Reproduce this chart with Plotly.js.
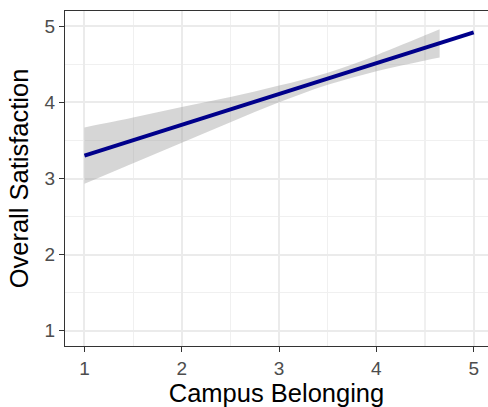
<!DOCTYPE html>
<html>
<head>
<meta charset="utf-8">
<script src="https://cdn.plot.ly/plotly-3.0.1.min.js"></script>
<style>
  html, body { margin: 0; padding: 0; background: #ffffff; }
  #chart { width: 488px; height: 407px; }
</style>
</head>
<body>
<div id="chart"></div>
<script>
// Fitted regression line: Campus Belonging -> Overall Satisfaction
const fitX = [1, 5];
const fitY = [3.30, 4.92];

// 95% confidence band around the fit
const bandX = [1, 1.5, 2, 2.5, 3, 3.5, 4, 4.5, 4.65];
const bandUpper = [3.67, 3.80, 3.94, 4.07, 4.22, 4.39, 4.62, 4.88, 4.96];
const bandLower = [2.93, 3.20, 3.47, 3.74, 4.00, 4.23, 4.41, 4.55, 4.59];

// Axis ticks
const xTicks = [1, 2, 3, 4, 5];
const yTicks = [1, 2, 3, 4, 5];

const FONT = '"Liberation Sans", Arial, Helvetica, sans-serif';

const traces = [
  {
    x: bandX, y: bandLower, type: 'scatter', mode: 'lines',
    line: { width: 0, shape: 'spline' }, hoverinfo: 'skip', showlegend: false
  },
  {
    x: bandX, y: bandUpper, type: 'scatter', mode: 'lines',
    line: { width: 0, shape: 'spline' }, fill: 'tonexty',
    fillcolor: 'rgba(153,153,153,0.4)', hoverinfo: 'skip', showlegend: false
  },
  {
    x: fitX, y: fitY, type: 'scatter', mode: 'lines',
    line: { color: '#00008B', width: 4 }, showlegend: false
  }
];

// minor grid sits halfway between the major breaks
const gridMinor = { dtick: 1, tick0: 0.5, showgrid: true, gridcolor: '#F0F0F0', gridwidth: 1.2, ticks: '' };

const layout = {
  width: 488, height: 407,
  margin: { l: 65, r: 0, t: 11, b: 61 },
  paper_bgcolor: '#ffffff', plot_bgcolor: '#ffffff',
  showlegend: false,
  font: { family: FONT },
  xaxis: {
    range: [0.8, 5.147], tickvals: xTicks, ticktext: xTicks.map(String),
    showgrid: true, gridcolor: '#EBEBEB', gridwidth: 2,
    minor: Object.assign({}, gridMinor),
    zeroline: false,
    showline: true, mirror: true, linecolor: '#333333', linewidth: 1,
    ticks: 'outside', ticklen: 5, tickwidth: 1, tickcolor: '#333333',
    tickfont: { family: FONT, size: 19, color: '#4D4D4D' },
    title: { text: 'Campus Belonging', font: { family: FONT, size: 25.5, color: '#000000' }, standoff: 5 },
    automargin: false
  },
  yaxis: {
    range: [0.8, 5.2], tickvals: yTicks, ticktext: yTicks.map(String),
    showgrid: true, gridcolor: '#EBEBEB', gridwidth: 2,
    minor: Object.assign({}, gridMinor),
    zeroline: false,
    showline: true, mirror: false, linecolor: '#333333', linewidth: 1,
    ticks: 'outside', ticklen: 5, tickwidth: 1, tickcolor: '#333333',
    tickfont: { family: FONT, size: 19, color: '#4D4D4D' },
    title: { text: 'Overall Satisfaction', font: { family: FONT, size: 25.5, color: '#000000' }, standoff: 8 },
    automargin: false
  }
};

Plotly.newPlot('chart', traces, layout, { displayModeBar: false, staticPlot: true });
</script>
</body>
</html>
